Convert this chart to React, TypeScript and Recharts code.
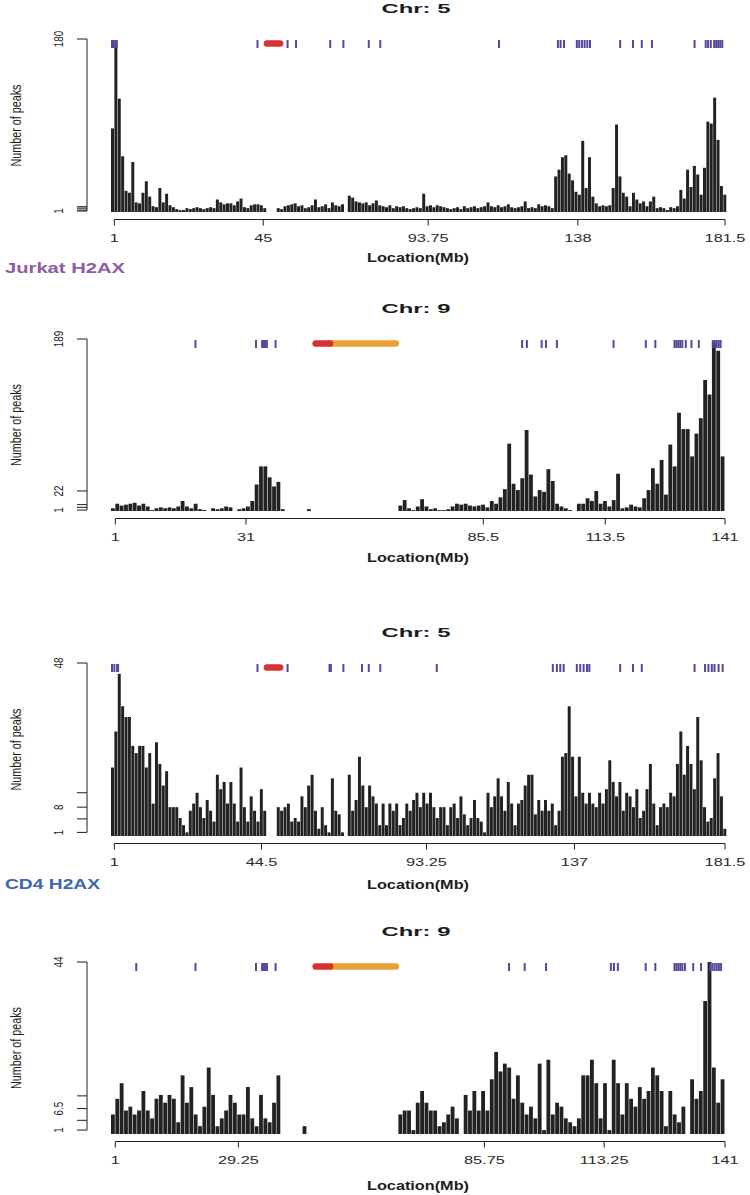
import React from 'react';
import { ComposedChart, Bar, XAxis, YAxis, ReferenceLine } from 'recharts';

// peaks per 1 Mb bin (bin i = [i, i+1) Mb); null = no data (centromere / gaps)
const JURKAT_CHR5: (number | null)[] = [
  87, 176, 118, 58, 22, 20, 52, 10, 9, 20,
  32, 16, 6, 5, 25, 10, 19, 7, 5, 3,
  2, 2, 4, 3, 4, 5, 4, 3, 4, 5,
  4, 13, 10, 8, 9, 9, 7, 11, 14, 5,
  4, 7, 8, 8, 7, 4, null, null, null, 4,
  3, 6, 7, 8, 9, 6, 7, 4, 5, 7,
  13, 5, 6, 8, 4, 10, 7, 6, 8, null,
  17, 15, 11, 10, 9, 10, 7, 9, 12, 7,
  6, 5, 7, 4, 6, 5, 6, 4, 3, 4,
  5, 4, 19, 6, 7, 5, 7, 6, 5, 4,
  3, 4, 5, 3, 6, 4, 5, 6, 4, 5,
  6, 10, 6, 5, 7, 5, 6, 8, 5, 4,
  5, 6, 11, 4, 5, 4, 8, 6, 7, 6,
  4, 37, 44, 57, 59, 40, 33, 21, 18, 74,
  25, 57, 16, 9, 6, 7, 6, 7, 25, 91,
  37, 20, 16, 6, 20, 13, 9, 11, 6, 11,
  16, 4, 5, 4, 2, 5, 4, 6, 23, 14,
  44, 26, 48, 39, 18, 46, 94, 92, 119, 75,
  27, 18,
];

const JURKAT_CHR9: (number | null)[] = [
  3, 8, 6, 7, 8, 9, 6, 8, 5, 1,
  3, 4, 3, 4, 3, 5, 11, 5, 3, 8,
  2, 1, null, 3, 2, 3, 5, 4, null, 2,
  3, 5, 11, 29, 49, 49, 37, 27, 32, 2,
  null, null, null, null, null, 2, null, null, null, null,
  null, null, null, null, null, null, null, null, null, null,
  null, null, null, null, null, null, 6, 12, 3, 1,
  5, 13, 5, 2, 3, 1, 1, 2, 5, 8,
  7, 8, 6, 5, 6, 7, 4, 11, 8, 15,
  24, 74, 30, 23, 36, 89, 40, 16, 23, 21,
  46, 33, 8, 5, 3, 1, null, 8, 8, 14,
  11, 22, 8, 11, 5, 12, 41, 3, 4, 7,
  5, 4, 14, 23, 47, 30, 56, 18, 73, 49,
  108, 90, 90, 60, 85, 102, 144, 128, 185, 176,
  60,
];

const CD4_CHR5: (number | null)[] = [
  19, 29, 45, 36, 33, 33, 25, 23, 25, 25,
  19, 23, 9, 26, 20, 14, 18, 8, 8, 8,
  5, 3, 1, 7, 9, 12, 8, 5, 10, 7,
  4, 17, 13, 15, 9, 15, 9, 4, 19, 8,
  4, 11, 7, 4, 13, 7, null, null, null, 8,
  7, 8, 9, 4, 5, 4, 11, 8, 14, 17,
  7, 2, 8, 3, 1, 16, 7, 6, 1, null,
  17, 7, 10, 22, 14, 8, 14, 11, 9, 3,
  9, 3, 9, 7, 9, 3, 5, 9, 7, 10,
  12, 8, 12, 9, 12, 8, 5, 8, 8, 3,
  8, 9, 5, 11, 6, 3, 5, 10, 5, 4,
  1, 12, 8, 11, 16, 11, 7, 15, 9, 3,
  9, 10, 14, 17, 17, 6, 10, 7, 10, 7,
  9, 3, 7, 22, 23, 36, 22, 11, 22, 12,
  9, 12, 9, 8, 12, 9, 13, 21, 15, 11,
  15, 7, 12, 11, 8, 13, 5, 7, 13, 20,
  9, 3, 8, 9, 8, 12, 11, 20, 29, 17,
  25, 20, 13, 33, 21, 8, 4, 5, 16, 23,
  11, 2,
];

const CD4_CHR9: (number | null)[] = [
  5, 9, 13, 6, 7, 5, 6, 11, 6, 4,
  9, 10, 8, 10, 9, 3, 15, 8, 12, 5,
  2, 7, 17, 10, 2, 4, 6, 10, 8, 5,
  5, 12, 4, 2, 10, 4, 3, 8, 15, null,
  null, null, null, null, 2, null, null, null, null, null,
  null, null, null, null, null, null, null, null, null, null,
  null, null, null, null, null, null, 5, 6, 6, 1,
  8, 11, 8, 6, 6, 2, 3, 5, 7, 4,
  null, 10, 6, 11, 6, 11, 6, 14, 21, 16,
  18, 17, 9, 15, 8, 5, 7, 4, 18, 1,
  19, 5, 8, 7, 4, 3, 2, 4, 15, 15,
  19, 13, 4, 13, 1, 19, 13, 5, 13, 9,
  7, 12, 9, 11, 17, 15, 11, 2, 11, 5,
  3, 7, null, 14, 9, 11, 34, 44, 17, 8,
  14,
];

const JURKAT_CHR5_X_TICKS = [1, 45, 93.75, 138, 181.5];
const JURKAT_CHR9_X_TICKS = [1, 31, 85.5, 113.5, 141];
const CD4_CHR5_X_TICKS = [1, 44.5, 93.25, 137, 181.5];
const CD4_CHR9_X_TICKS = [1, 29.25, 85.75, 113.25, 141];

const JURKAT_CHR5_Y_TICKS = [1, 2, 4, 5.5, 180];
const JURKAT_CHR9_Y_TICKS = [1, 4, 7, 22, 189];
const CD4_CHR5_Y_TICKS = [1, 4.75, 8, 12, 48];
const CD4_CHR9_Y_TICKS = [1, 3.5, 6.5, 9.75, 44];

const JURKAT_CHR5_Y_LABELS = [1, 180];
const JURKAT_CHR9_Y_LABELS = [1, 22, 189];
const CD4_CHR5_Y_LABELS = [1, 8, 48];
const CD4_CHR9_Y_LABELS = [1, 6.5, 44];

// feature marks along the top (Mb)
const JURKAT_CHR5_MARKS = [0.3, 0.8, 1.3, 1.7, 43.3, 52.2, 54.7, 64.8, 68.7, 76.2, 79.6, 114.7,
  132.1, 132.9, 133.9, 137.7, 138.4, 139.2, 140.0, 140.8, 141.6, 150.5, 154.3, 156.9, 159.9,
  172.5, 175.8, 176.5, 177.3, 178.3, 178.9, 179.5, 180.1, 180.7];
const JURKAT_CHR9_MARKS = [19.4, 33.3, 34.7, 35.1, 35.4, 35.8, 37.8, 94.4, 95.5, 98.9, 99.9, 102.4,
  115.4, 122.8, 125.0, 129.4, 129.85, 130.3, 130.75, 131.2, 132.0, 133.3, 135.0,
  138.2, 138.65, 139.1, 139.55, 140.0];
const CD4_CHR5_MARKS = [0.3, 1.0, 1.8, 2.1, 43.3, 52.2, 64.6, 65.0, 68.7, 74.2, 76.2, 79.6, 96.3,
  130.6, 131.8, 132.8, 133.8, 137.7, 138.7, 139.7, 140.7, 141.4, 150.5, 154.3, 156.9, 172.5,
  175.6, 176.6, 177.6, 178.4, 179.6, 180.8];
const CD4_CHR9_MARKS = [5.8, 19.4, 33.3, 34.7, 35.1, 35.4, 35.8, 37.8, 91.4, 95.0, 99.9,
  114.8, 115.5, 116.4, 122.8, 125.0, 129.4, 129.85, 130.3, 130.75, 131.2, 131.8, 133.7, 135.5,
  137.6, 138.1, 138.6, 139.1, 139.6, 140.1];

const CHR5_CENTROMERE = [46.1, 50.0];
const CHR9_CENTROMERE = [47.0, 50.3];
const CHR9_HETEROCHROMATIN = [50.3, 65.4];

const INK = '#1c1c1c';
const BAR_FILL = '#222222';
const MARK = '#54489c';
const CEN_RED = '#d7322d';
const CEN_ORANGE = '#eba034';
const SANS = '"Liberation Sans", Arial, Helvetica, sans-serif';

const CHART_W = 750;
const PLOT_LEFT = 87;
const PLOT_RIGHT = 725;
const X_PAD = 24;
const TOP_MARGIN = 39;
const X_AXIS_H = 60;

function XTick({ x, y, payload }: any) {
  return (
    <g>
      <line x1={x} x2={x} y1={y + 7.5} y2={y + 13.5} stroke={INK} />
      <text
        transform={`translate(${x},${y + 30}) scale(1.42,1)`}
        textAnchor="middle"
        fontSize={11.5}
        fontFamily={SANS}
        fill="#2a2a2a"
      >
        {payload.value}
      </text>
    </g>
  );
}

function YTick({ x, y, payload, labels }: any) {
  if (!labels.includes(payload.value)) return <g />;
  return (
    <text
      transform={`translate(${x - 12},${y}) rotate(-90) scale(0.76,1)`}
      textAnchor="middle"
      fontSize={13}
      fontFamily={SANS}
      fill={INK}
    >
      {payload.value}
    </text>
  );
}

const yAxisLine = (s: any) => (
  <line x1={PLOT_LEFT} x2={PLOT_LEFT} y1={s.y1} y2={s.y2} stroke={INK} />
);
const xAxisLine = (s: any) => (
  <line x1={s.x1} x2={s.x2} y1={s.y1 + 7.5} y2={s.y2 + 7.5} stroke={INK} />
);
const markShape = (s: any) => {
  const top = Math.min(s.y1, s.y2);
  return <line x1={s.x1} x2={s.x1} y1={top + 1} y2={top + 9} stroke={MARK} strokeWidth={2} />;
};
const bandShape = (color: string) => (s: any) => (
  <line x1={s.x1} x2={s.x2} y1={s.y1 + 4.5} y2={s.y2 + 4.5} stroke={color} strokeWidth={6.5} strokeLinecap="round" />
);

interface PanelProps {
  top: number;
  height: number;
  values: (number | null)[];
  yMax: number;
  xTicks: number[];
  yTicks: number[];
  yLabels: number[];
  marks: number[];
  centromere: number[];
  hetero?: number[];
}

function Panel(p: PanelProps) {
  const data = p.values.map((peaks, i) => ({ mb: i + 0.5, peaks }));
  const xEnd = p.xTicks[p.xTicks.length - 1];
  const binPx = (PLOT_RIGHT - PLOT_LEFT - X_PAD) / xEnd;
  return (
    <div style={{ position: 'absolute', left: 0, top: p.top }}>
      <ComposedChart
        width={CHART_W}
        height={p.height}
        data={data}
        margin={{ top: TOP_MARGIN, right: CHART_W - PLOT_RIGHT, bottom: 0, left: 0 }}
      >
        <XAxis
          dataKey="mb"
          type="number"
          domain={[0, xEnd]}
          ticks={p.xTicks}
          interval={0}
          padding={{ left: X_PAD, right: 0 }}
          height={X_AXIS_H}
          axisLine={false}
          tickLine={false}
          tickSize={0}
          tickMargin={0}
          tick={(t: any) => <XTick {...t} />}
        />
        <YAxis
          type="number"
          domain={[0, p.yMax]}
          ticks={p.yTicks}
          interval={0}
          width={PLOT_LEFT}
          axisLine={false}
          tickSize={10}
          tickLine={{ stroke: INK }}
          tick={(t: any) => <YTick {...t} labels={p.yLabels} />}
        />
        <Bar dataKey="peaks" fill={BAR_FILL} barSize={binPx * 0.88} isAnimationActive={false} />
        {/* R-style axes: lines only run from first to last tick */}
        <ReferenceLine segment={[{ x: 0, y: p.yTicks[0] }, { x: 0, y: p.yMax }]} shape={yAxisLine} />
        <ReferenceLine segment={[{ x: p.xTicks[0], y: 0 }, { x: xEnd, y: 0 }]} shape={xAxisLine} />
        {p.marks.map((m) => (
          <ReferenceLine key={m} x={m} shape={markShape} />
        ))}
        {p.hetero && (
          <ReferenceLine
            segment={[{ x: p.hetero[0], y: p.yMax }, { x: p.hetero[1], y: p.yMax }]}
            shape={bandShape(CEN_ORANGE)}
          />
        )}
        <ReferenceLine
          segment={[{ x: p.centromere[0], y: p.yMax }, { x: p.centromere[1], y: p.yMax }]}
          shape={bandShape(CEN_RED)}
        />
      </ComposedChart>
    </div>
  );
}

const LAYOUT = [
  { top: 0, height: 272, chr: '5', loc: 50 },
  { top: 300, height: 271, chr: '9', loc: 51 },
  { top: 624, height: 272, chr: '5', loc: 53 },
  { top: 923, height: 271, chr: '9', loc: 56 },
];

export default function App() {
  return (
    <div style={{ position: 'absolute', left: 0, top: 0, width: 750, height: 1195, background: '#fff' }}>
      <Panel top={LAYOUT[0].top} height={LAYOUT[0].height} values={JURKAT_CHR5} yMax={180} xTicks={JURKAT_CHR5_X_TICKS}
        yTicks={JURKAT_CHR5_Y_TICKS} yLabels={JURKAT_CHR5_Y_LABELS} marks={JURKAT_CHR5_MARKS}
        centromere={CHR5_CENTROMERE} />
      <Panel top={LAYOUT[1].top} height={LAYOUT[1].height} values={JURKAT_CHR9} yMax={189} xTicks={JURKAT_CHR9_X_TICKS}
        yTicks={JURKAT_CHR9_Y_TICKS} yLabels={JURKAT_CHR9_Y_LABELS} marks={JURKAT_CHR9_MARKS}
        centromere={CHR9_CENTROMERE} hetero={CHR9_HETEROCHROMATIN} />
      <Panel top={LAYOUT[2].top} height={LAYOUT[2].height} values={CD4_CHR5} yMax={48} xTicks={CD4_CHR5_X_TICKS}
        yTicks={CD4_CHR5_Y_TICKS} yLabels={CD4_CHR5_Y_LABELS} marks={CD4_CHR5_MARKS}
        centromere={CHR5_CENTROMERE} />
      <Panel top={LAYOUT[3].top} height={LAYOUT[3].height} values={CD4_CHR9} yMax={44} xTicks={CD4_CHR9_X_TICKS}
        yTicks={CD4_CHR9_Y_TICKS} yLabels={CD4_CHR9_Y_LABELS} marks={CD4_CHR9_MARKS}
        centromere={CHR9_CENTROMERE} hetero={CHR9_HETEROCHROMATIN} />

      <svg width={750} height={1195} style={{ position: 'absolute', left: 0, top: 0, pointerEvents: 'none' }}>
        {LAYOUT.map((l, i) => {
          const plotBottom = l.top + l.height - X_AXIS_H;
          const plotMid = (l.top + TOP_MARGIN + plotBottom) / 2;
          return (
            <g key={i} fontFamily={SANS} fill={INK}>
              <text x={416} y={l.top + 13} textAnchor="middle" fontSize={12.5} fontWeight="bold"
                textLength={69} lengthAdjust="spacingAndGlyphs">{`Chr:  ${l.chr}`}</text>
              <text transform={`translate(21,${plotMid}) rotate(-90)`} textAnchor="middle" fontSize={14}
                textLength={82} lengthAdjust="spacingAndGlyphs">Number of peaks</text>
              <text x={418} y={plotBottom + l.loc} textAnchor="middle" fontSize={12} fontWeight="bold"
                textLength={102} lengthAdjust="spacingAndGlyphs">Location(Mb)</text>
            </g>
          );
        })}
        <text x={5} y={273} fontFamily={SANS} fontSize={15} fontWeight="bold" fill="#8e5aa8"
          textLength={120} lengthAdjust="spacingAndGlyphs">Jurkat H2AX</text>
        <text x={5} y={889} fontFamily={SANS} fontSize={15} fontWeight="bold" fill="#3d68ad"
          textLength={95} lengthAdjust="spacingAndGlyphs">CD4 H2AX</text>
      </svg>
    </div>
  );
}
